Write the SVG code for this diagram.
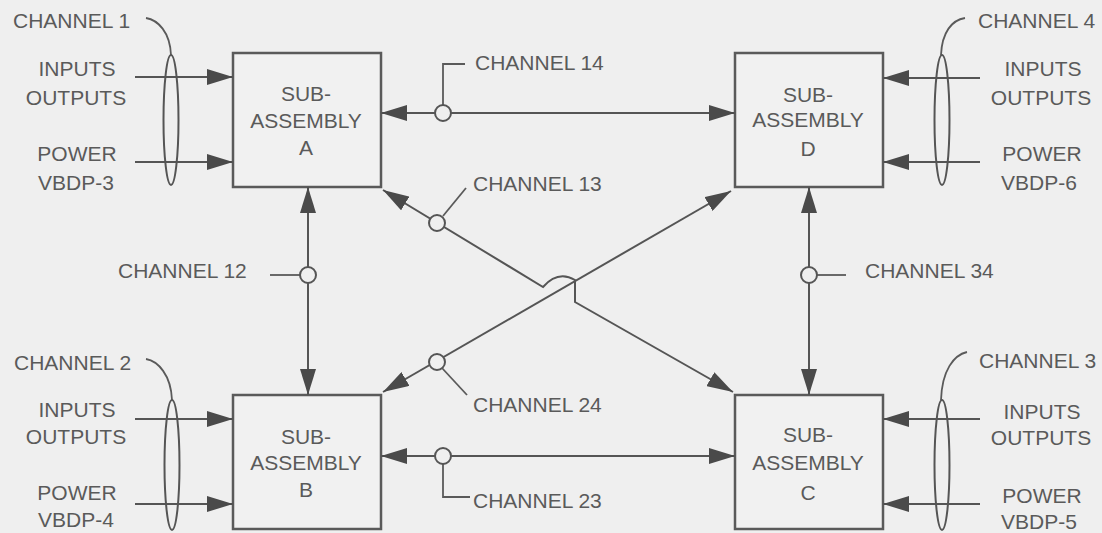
<svg xmlns="http://www.w3.org/2000/svg" width="1102" height="533" viewBox="0 0 1102 533">
  <style>
    .bg { fill: #efefef; }
    .box { fill: #f1f1f1; stroke: #5a5a5a; stroke-width: 2.5; }
    .ln { fill: none; stroke: #555; stroke-width: 2; }
    .thin { fill: none; stroke: #5a5a5a; stroke-width: 1.8; }
    .tap { fill: #efefef; stroke: #555; stroke-width: 2; }
    .bundle { fill: none; stroke: #555; stroke-width: 2; }
    text { font-family: "Liberation Sans", Arial, sans-serif; font-size: 21px; fill: #5a5a5a; }
    .mid { text-anchor: middle; }
  </style>
  <defs>
    <marker id="arrow" viewBox="0 0 26 16" refX="26" refY="8" markerWidth="26" markerHeight="16" markerUnits="userSpaceOnUse" orient="auto-start-reverse">
      <path d="M0,0 L26,8 L0,16 Z" fill="#4a4a4a"/>
    </marker>
  </defs>

  <rect class="bg" x="0" y="0" width="1102" height="533"/>

  <!-- sub-assembly boxes -->
  <g id="sub-assembly-a">
    <rect class="box" x="233" y="53" width="148" height="134"/>
    <text class="mid" x="306" y="101">SUB-</text>
    <text class="mid" x="306" y="127.5">ASSEMBLY</text>
    <text class="mid" x="306" y="155">A</text>
  </g>
  <g id="sub-assembly-d">
    <rect class="box" x="735" y="53" width="148" height="134"/>
    <text class="mid" x="808" y="101.5">SUB-</text>
    <text class="mid" x="808" y="126.5">ASSEMBLY</text>
    <text class="mid" x="808" y="155.5">D</text>
  </g>
  <g id="sub-assembly-b">
    <rect class="box" x="233" y="395" width="148" height="134"/>
    <text class="mid" x="306" y="444">SUB-</text>
    <text class="mid" x="306" y="470">ASSEMBLY</text>
    <text class="mid" x="306" y="497">B</text>
  </g>
  <g id="sub-assembly-c">
    <rect class="box" x="735" y="395" width="148" height="134"/>
    <text class="mid" x="808" y="441.5">SUB-</text>
    <text class="mid" x="808" y="469.5">ASSEMBLY</text>
    <text class="mid" x="808" y="499.5">C</text>
  </g>

  <!-- external I/O and power feeds -->
  <g id="channel-1">
    <text x="13" y="27.5">CHANNEL 1</text>
    <path class="thin" d="M146,18 C158,20 170,32 171,55"/>
    <text class="mid" x="77" y="75.5">INPUTS</text>
    <text class="mid" x="76" y="104.5">OUTPUTS</text>
    <text class="mid" x="77" y="160.5">POWER</text>
    <text class="mid" x="76" y="189.5">VBDP-3</text>
  </g>
  <g id="channel-4">
    <text x="978" y="28">CHANNEL 4</text>
    <path class="thin" d="M965,18 C952,20 942,32 941,55"/>
    <text class="mid" x="1043" y="75.5">INPUTS</text>
    <text class="mid" x="1041" y="104.5">OUTPUTS</text>
    <text class="mid" x="1042" y="160.5">POWER</text>
    <text class="mid" x="1039" y="189.5">VBDP-6</text>
  </g>
  <g id="channel-2">
    <text x="14" y="369.5">CHANNEL 2</text>
    <path class="thin" d="M146,359 C158,361 171,375 172,400"/>
    <text class="mid" x="77" y="416.5">INPUTS</text>
    <text class="mid" x="76" y="443.5">OUTPUTS</text>
    <text class="mid" x="77" y="499.5">POWER</text>
    <text class="mid" x="76" y="526.5">VBDP-4</text>
  </g>
  <g id="channel-3">
    <text x="979" y="367.5">CHANNEL 3</text>
    <path class="thin" d="M967,352 C954,355 942,370 941,400"/>
    <text class="mid" x="1042" y="418.5">INPUTS</text>
    <text class="mid" x="1041" y="444.5">OUTPUTS</text>
    <text class="mid" x="1042" y="502.5">POWER</text>
    <text class="mid" x="1039" y="528.5">VBDP-5</text>
  </g>

  <!-- connectors -->
  <g id="connectors">
    <!-- feeds into each sub-assembly -->
    <line class="ln" x1="135" y1="77" x2="233" y2="77" marker-end="url(#arrow)"/>
    <line class="ln" x1="135" y1="162" x2="233" y2="162" marker-end="url(#arrow)"/>
    <line class="ln" x1="980" y1="78" x2="883" y2="78" marker-end="url(#arrow)"/>
    <line class="ln" x1="980" y1="162" x2="883" y2="162" marker-end="url(#arrow)"/>
    <line class="ln" x1="135" y1="419" x2="233" y2="419" marker-end="url(#arrow)"/>
    <line class="ln" x1="135" y1="504" x2="233" y2="504" marker-end="url(#arrow)"/>
    <line class="ln" x1="980" y1="419" x2="883" y2="419" marker-end="url(#arrow)"/>
    <line class="ln" x1="980" y1="504" x2="883" y2="504" marker-end="url(#arrow)"/>

    <!-- cable bundles -->
    <ellipse class="bundle" cx="171" cy="120" rx="7.5" ry="65"/>
    <ellipse class="bundle" cx="942" cy="120" rx="7.5" ry="65"/>
    <ellipse class="bundle" cx="172" cy="465" rx="7.5" ry="65"/>
    <ellipse class="bundle" cx="942" cy="465" rx="7.5" ry="65"/>

    <!-- channel 14: A <-> D -->
    <line class="ln" x1="381" y1="113" x2="735" y2="113" marker-start="url(#arrow)" marker-end="url(#arrow)"/>
    <path class="thin" d="M443,105 L443,64 L465,64"/>
    <circle class="tap" cx="443" cy="113" r="8"/>
    <text x="475" y="70">CHANNEL 14</text>

    <!-- channel 23: B <-> C -->
    <line class="ln" x1="381" y1="456" x2="735" y2="456" marker-start="url(#arrow)" marker-end="url(#arrow)"/>
    <path class="thin" d="M443,464 L443,497 L470,497"/>
    <circle class="tap" cx="443" cy="456" r="8"/>
    <text x="473" y="508">CHANNEL 23</text>

    <!-- channel 12: A <-> B -->
    <line class="ln" x1="308" y1="187" x2="308" y2="395" marker-start="url(#arrow)" marker-end="url(#arrow)"/>
    <line class="thin" x1="270" y1="275" x2="300" y2="275"/>
    <circle class="tap" cx="308" cy="275" r="8"/>
    <text x="118" y="277.5">CHANNEL 12</text>

    <!-- channel 34: D <-> C -->
    <line class="ln" x1="809" y1="187" x2="809" y2="395" marker-start="url(#arrow)" marker-end="url(#arrow)"/>
    <line class="thin" x1="817" y1="275" x2="846" y2="275"/>
    <circle class="tap" cx="809" cy="275" r="8"/>
    <text x="865" y="277.5">CHANNEL 34</text>

    <!-- channel 24: B <-> D -->
    <line class="ln" x1="383" y1="392" x2="731" y2="191" marker-start="url(#arrow)" marker-end="url(#arrow)"/>
    <line class="thin" x1="442" y1="368" x2="467" y2="395"/>
    <circle class="tap" cx="437" cy="362" r="8"/>
    <text x="473" y="411.5">CHANNEL 24</text>

    <!-- channel 13: A <-> C, hopping over channel 24 -->
    <path class="ln" d="M383,190 L543,287 Q558,270 575,280 L575,302 L733,392" marker-start="url(#arrow)" marker-end="url(#arrow)"/>
    <line class="thin" x1="443" y1="216" x2="466" y2="188"/>
    <circle class="tap" cx="437" cy="223" r="8"/>
    <text x="473" y="191">CHANNEL 13</text>
  </g>
</svg>
